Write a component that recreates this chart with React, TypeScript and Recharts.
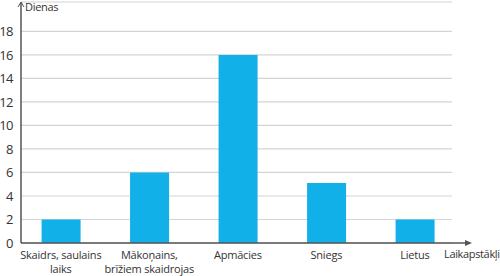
import { Bar, BarChart, CartesianGrid, XAxis, YAxis } from "recharts";

const categories = [
  ["Skaidrs, saulains", "laiks"],
  ["Mākoņains,", "brīžiem skaidrojas"],
  ["Apmācies"],
  ["Sniegs"],
  ["Lietus"],
];
const days = [2, 6, 16, 5.1, 2];
const yTicks = [0, 2, 4, 6, 8, 10, 12, 14, 16, 18];
const yTitle = "Dienas";
const xTitle = "Laikapstākļi";

const data = categories.map((c, i) => ({ idx: i, days: days[i] }));

const FONT = "'Open Sans', sans-serif";
const AXIS = "#555";

function CategoryTick({ x, y, payload }: any) {
  const lines = categories[payload.value] || [];
  return (
    <text x={x} y={y + 8} textAnchor="middle" fontSize={11} fill="#333" fontFamily={FONT} letterSpacing={-0.2}>
      {lines.map((l, i) => (
        <tspan key={i} x={x} dy={i === 0 ? 0 : 13.7}>
          {l}
        </tspan>
      ))}
    </text>
  );
}

function XArrow({ viewBox }: any) {
  const { x, y, width } = viewBox;
  const end = x + width + 20;
  return (
    <g>
      <line x1={x + width} y1={y} x2={end - 2} y2={y} stroke={AXIS} strokeWidth={1.5} />
      <path d={`M${end},${y} L${end - 7},${y - 3} L${end - 7},${y + 3} Z`} fill={AXIS} />
      <text x={x + width - 8} y={y + 15} fontSize={11} fill="#333" fontFamily={FONT} letterSpacing={-0.35}>
        {xTitle}
      </text>
    </g>
  );
}

function YArrow({ viewBox }: any) {
  const { x, y, width } = viewBox;
  const ax = x + width;
  return (
    <g>
      <path d={`M${ax - 3},${y + 5} L${ax},${y} L${ax + 3},${y + 5}`} fill="none" stroke={AXIS} strokeWidth={1} />
      <text x={ax + 4} y={y + 8.5} fontSize={11} fill="#333" fontFamily={FONT} letterSpacing={-0.3}>
        {yTitle}
      </text>
    </g>
  );
}

export default function App() {
  return (
    <div style={{ position: "absolute", left: 0, top: 0, background: "#fff" }}>
      <BarChart width={500} height={276} data={data} margin={{ top: 2, right: 48, bottom: 0, left: 0 }}>
        <CartesianGrid vertical={false} stroke="#d4d4d4" strokeWidth={1.2} />
        <XAxis
          type="number"
          dataKey="idx"
          domain={[-0.45, 4.42]}
          ticks={[0, 1, 2, 3, 4]}
          allowDataOverflow
          tickLine={false}
          axisLine={{ stroke: AXIS, strokeWidth: 1.5 }}
          tick={<CategoryTick />}
          height={33}
          interval={0}
          label={<XArrow />}
        />
        <YAxis
          domain={[0, 20.5]}
          ticks={yTicks}
          allowDataOverflow
          tickLine={false}
          width={21}
          axisLine={{ stroke: AXIS, strokeWidth: 1.5 }}
          tick={{ fontSize: 13, fill: "#333", fontFamily: FONT, letterSpacing: -0.5 }}
          tickMargin={2}
          interval={0}
          label={<YArrow />}
        />
        <Bar dataKey="days" fill="#12b0e8" barSize={39} isAnimationActive={false} />
      </BarChart>
    </div>
  );
}
